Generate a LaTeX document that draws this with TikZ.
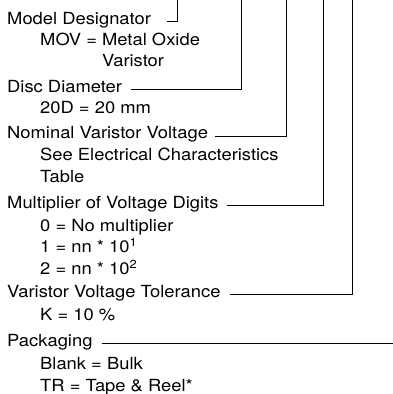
\documentclass[tikz,border=0pt]{standalone}
\usepackage{fontspec}
\setmainfont{TeX Gyre Heros}[FakeStretch=1.1]
\usepackage{tikz}
\usetikzlibrary{calc}
\tikzset{
	head/.style={anchor=base west, inner sep=0pt, text height=0.72em, text depth=0.25em, font=\fontsize{16.7}{20}\selectfont},
	item/.style={head},
	lead/.style={line width=0.9pt, color=black},
}

\begin{document}
\begin{tikzpicture}[x=1pt, y=-1pt]
		%%%%% START %%%%%
		\useasboundingbox (0, 0) rectangle (392, 394);
		
		\node[head] (model) at (7, 24) {Model Designator};
		\node[item] (mov) at (40, 45.3) {MOV = Metal Oxide};
		\node[item] (movb) at (40, 66) {\phantom{MOV = }Varistor};
		
		\node[head] (disc) at (7, 92) {Disc Diameter};
		\node[item] (dd) at (40, 113.3) {20D = 20 mm};
		
		\node[head] (nom) at (7, 138.5) {Nominal Varistor Voltage};
		\node[item] (see) at (40, 160) {See Electrical Characteristics};
		\node[item] (seeb) at (40, 182.5) {Table};
		
		\node[head] (mult) at (7, 208) {Multiplier of Voltage Digits};
		\node[item] (mza) at (40, 231) {0 = No multiplier};
		\node[item] (mzb) at (40, 252.5) {1 = nn * 10\textsuperscript{1}};
		\node[item] (mzc) at (40, 274.3) {2 = nn * 10\textsuperscript{2}};
		
		\node[head] (tol) at (7, 297) {Varistor Voltage Tolerance};
		\node[item] (tk) at (40, 320.7) {K = 10 \%};
		
		\node[head] (pack) at (7, 346) {Packaging};
		\node[item] (pka) at (40, 369.7) {Blank = Bulk};
		\node[item] (pkb) at (40, 391.5) {TR = Tape \& Reel*};
		
		% leads up to the part number
		\coordinate (modeltop) at (177, 0);
		\coordinate (disctop) at (241.5, 0);
		\coordinate (nomtop) at (286, 0);
		\coordinate (multtop) at (323.5, 0);
		\coordinate (toltop) at (352.5, 0);
		\coordinate (packend) at (393, 0);
		
		\draw[lead] ([xshift=16pt]model.east) -| (modeltop);
		\draw[lead] ([xshift=9pt]disc.east) -| (disctop);
		\draw[lead] ([xshift=7pt]nom.east) -| (nomtop);
		\draw[lead] ([xshift=8pt]mult.east) -| (multtop);
		\draw[lead] ([xshift=9pt]tol.east) -| (toltop);
		\draw[lead] ([xshift=9pt]pack.east) -- (pack.east -| packend);
		
		%%%%% END %%%%%
	\end{tikzpicture}
\end{document}
